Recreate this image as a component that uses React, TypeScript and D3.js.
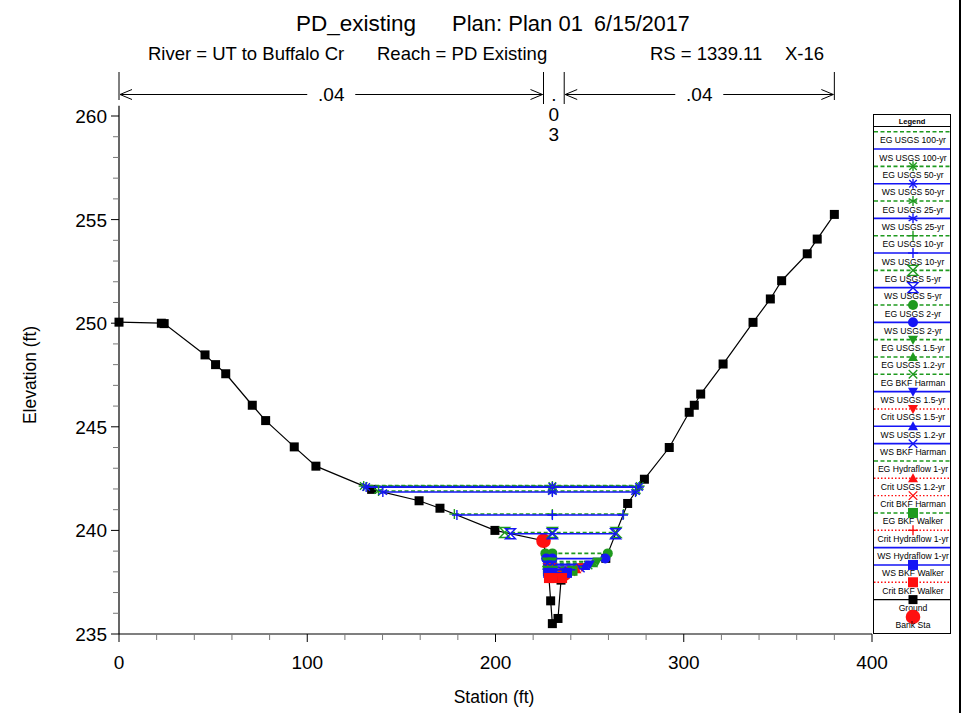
import React from 'react';
import * as d3 from 'd3';

// ---------- DATA ----------
const groundStation = [0, 22.5, 24, 45.7, 51.3, 56.7, 70.8, 77.9, 93.1, 104.6, 134.2, 159.4, 170.5, 199.7, 225.5, 228.4, 229.3, 230.2, 233.2, 234.8, 236.5, 258.6, 270.2, 279.1, 292.3, 302.9, 305.6, 309.0, 320.9, 336.8, 346.0, 352.0, 365.6, 370.9, 380.0];
const groundElev = [250.05, 250.0, 249.98, 248.47, 248.0, 247.56, 246.04, 245.3, 244.03, 243.1, 241.98, 241.43, 241.07, 240.0, 239.5, 237.7, 236.6, 235.5, 235.75, 237.6, 237.9, 238.65, 241.3, 242.47, 244.0, 245.7, 246.04, 246.58, 248.03, 250.04, 251.17, 252.05, 253.35, 254.06, 255.25];

const bankStations = [225.5, 236.5];
const nBreaks = [0, 225.5, 236.5, 380];
const nValues = ['.04', '.03', '.04'];

const profileNames = [
  'EG USGS 100-yr', 'WS USGS 100-yr', 'EG USGS 50-yr', 'WS USGS 50-yr', 'EG USGS 25-yr', 'WS USGS 25-yr',
  'EG USGS 10-yr', 'WS USGS 10-yr', 'EG USGS 5-yr', 'WS USGS 5-yr', 'EG USGS 2-yr', 'WS USGS 2-yr',
  'EG USGS 1.5-yr', 'EG USGS 1.2-yr', 'EG BKF Harman', 'WS USGS 1.5-yr', 'Crit USGS 1.5-yr', 'WS USGS 1.2-yr',
  'WS BKF Harman', 'EG Hydraflow 1-yr', 'Crit USGS 1.2-yr', 'Crit BKF Harman', 'EG BKF Walker',
  'Crit Hydraflow 1-yr', 'WS Hydraflow 1-yr', 'WS BKF Walker', 'Crit BKF Walker',
];
const profileElev = [
  242.17, 242.12, 242.14, 242.09, 241.90, 241.85,
  240.79, 240.74, 239.90, 239.84, 238.89, 238.64,
  238.50, 238.42, 238.33, 238.36, 238.22, 238.28,
  238.19, 238.22, 238.12, 238.02, 238.05,
  237.92, 238.10, 237.95, 237.70,
];
const profileMarker = [
  'none', 'none', 'asterisk', 'asterisk', 'star', 'star',
  'plus', 'plus', 'hourglass', 'hourglass', 'circle', 'circle',
  'triDown', 'triUp', 'x', 'triDown', 'triDown', 'triUp',
  'x', 'none', 'triUp', 'x', 'square',
  'plus', 'none', 'square', 'square',
];

const xTicks = [0, 100, 200, 300, 400];
const yTicks = [235, 240, 245, 250, 255, 260];

// ---------- STYLE ----------
const GREEN = '#1f9a1f';
const BLUE = '#1515f5';
const RED = '#ff1010';
const FONT = 'Arial, "Liberation Sans", sans-serif';

const typeOf = (name: string) => name.split(' ')[0];
const styleOf = (name: string) => {
  const t = typeOf(name);
  if (t === 'EG') return { color: GREEN, dash: '4 2.5', width: 1.6 };
  if (t === 'WS') return { color: BLUE, dash: undefined, width: 1.6 };
  return { color: RED, dash: '1.5 2', width: 1.4 };
};

function Marker({ type, x, y, color, s = 5 }: { type: string; x: number; y: number; color: string; s?: number }) {
  const sw = 1.4;
  switch (type) {
    case 'asterisk':
      return (
        <g stroke={color} strokeWidth={sw} transform={`translate(${x},${y})`}>
          <line x1={-s} y1={0} x2={s} y2={0} />
          <line x1={0} y1={-s} x2={0} y2={s} />
          <line x1={-s * 0.75} y1={-s * 0.75} x2={s * 0.75} y2={s * 0.75} />
          <line x1={-s * 0.75} y1={s * 0.75} x2={s * 0.75} y2={-s * 0.75} />
        </g>
      );
    case 'star':
      return (
        <g stroke={color} strokeWidth={sw} transform={`translate(${x},${y})`}>
          <line x1={0} y1={-s} x2={0} y2={s} />
          <line x1={-s * 0.87} y1={-s * 0.5} x2={s * 0.87} y2={s * 0.5} />
          <line x1={-s * 0.87} y1={s * 0.5} x2={s * 0.87} y2={-s * 0.5} />
        </g>
      );
    case 'plus':
      return (
        <g stroke={color} strokeWidth={sw} transform={`translate(${x},${y})`}>
          <line x1={-s} y1={0} x2={s} y2={0} />
          <line x1={0} y1={-s} x2={0} y2={s} />
        </g>
      );
    case 'x':
      return (
        <g stroke={color} strokeWidth={sw} transform={`translate(${x},${y})`}>
          <line x1={-s * 0.85} y1={-s * 0.85} x2={s * 0.85} y2={s * 0.85} />
          <line x1={-s * 0.85} y1={s * 0.85} x2={s * 0.85} y2={-s * 0.85} />
        </g>
      );
    case 'hourglass':
      return (
        <path d={`M${x - s},${y - s}H${x + s}L${x - s},${y + s}H${x + s}Z`} fill="none" stroke={color} strokeWidth={sw} />
      );
    case 'circle':
      return <circle cx={x} cy={y} r={s} fill={color} />;
    case 'triDown':
      return <path d={`M${x - s},${y - s * 0.8}H${x + s}L${x},${y + s}Z`} fill={color} />;
    case 'triUp':
      return <path d={`M${x - s},${y + s * 0.8}H${x + s}L${x},${y - s}Z`} fill={color} />;
    case 'square':
      return <rect x={x - s} y={y - s} width={2 * s} height={2 * s} fill={color} />;
    default:
      return null;
  }
}

// water surface extent: walk out from the thalweg until ground rises above elevation
function extent(el: number) {
  let thal = 0;
  groundElev.forEach((e, i) => { if (e < groundElev[thal]) thal = i; });
  let left = groundStation[0];
  for (let i = thal; i > 0; i--) {
    if (groundElev[i - 1] >= el) {
      const t = (el - groundElev[i]) / (groundElev[i - 1] - groundElev[i]);
      left = groundStation[i] + t * (groundStation[i - 1] - groundStation[i]);
      break;
    }
  }
  let right = groundStation[groundStation.length - 1];
  for (let i = thal; i < groundStation.length - 1; i++) {
    if (groundElev[i + 1] >= el) {
      const t = (el - groundElev[i]) / (groundElev[i + 1] - groundElev[i]);
      right = groundStation[i] + t * (groundStation[i + 1] - groundStation[i]);
      break;
    }
  }
  return { left, right, mid: groundStation[thal] };
}

export default function App() {
  const W = 965, H = 713;
  const x = d3.scaleLinear().domain([0, 400]).range([119, 872]);
  const y = d3.scaleLinear().domain([235, 260]).range([634, 116]);

  const groundLine = d3.line<number>().x((_, i) => x(groundStation[i])).y((d) => y(d))(groundElev) || '';

  const yMinor = d3.range(235, 261, 1);
  const xMinor = d3.range(0, 401, 20);

  const arrowY = 94.5;
  const chevron = (tipX: number, dir: number) => `M${tipX - dir * 12},${arrowY - 5}L${tipX},${arrowY}L${tipX - dir * 12},${arrowY + 5}`;

  const legX0 = 873.5, legX1 = 950.5, legTop = 114.5, legBottom = 633.5;
  const rowY = (i: number) => 131.7 + i * 17.33;
  const legCx = 913;

  return (
    <svg width={W} height={H} style={{ position: 'absolute', left: 0, top: 0, background: '#fff' }} fontFamily={FONT}>
      <rect x={0} y={0} width={W} height={H} fill="#fff" />
      {/* titles */}
      <text x={296} y={31} fontSize={22.5}>PD_existing</text>
      <text x={452} y={31} fontSize={22}>Plan: Plan 01</text>
      <text x={594} y={31} fontSize={21.5}>6/15/2017</text>
      <text x={148} y={60} fontSize={18.5}>River = UT to Buffalo Cr</text>
      <text x={377} y={60} fontSize={18.5}>Reach = PD Existing</text>
      <text x={650} y={60} fontSize={18.5}>RS = 1339.11</text>
      <text x={785} y={60} fontSize={18.5}>X-16</text>

      {/* n-value annotations */}
      {nBreaks.map((b, i) => {
        const inner = i === 1 || i === 2;
        return <line key={'nb' + i} x1={x(b)} x2={x(b)} y1={72} y2={inner ? 104 : 100} stroke="#000" strokeWidth={1} />;
      })}
      {nValues.map((v, i) => {
        const a = x(nBreaks[i]), b = x(nBreaks[i + 1]);
        const c = (a + b) / 2;
        if (b - a < 40) {
          return (
            <g key={'nv' + i} fontSize={19} textAnchor="middle">
              {v.split('').map((ch, k) => (
                <text key={k} x={c} y={101 + k * 20} >{ch}</text>
              ))}
            </g>
          );
        }
        return (
          <g key={'nv' + i}>
            <line x1={a + 1} x2={c - 24} y1={arrowY} y2={arrowY} stroke="#000" strokeWidth={1} />
            <line x1={c + 24} x2={b - 1} y1={arrowY} y2={arrowY} stroke="#000" strokeWidth={1} />
            <path d={chevron(a + 1, -1)} fill="none" stroke="#000" strokeWidth={1} />
            <path d={chevron(b - 1, 1)} fill="none" stroke="#000" strokeWidth={1} />
            <text x={c} y={101} fontSize={19} textAnchor="middle">{v}</text>
          </g>
        );
      })}

      {/* axes */}
      <line x1={119} x2={119} y1={y(260.5)} y2={634} stroke="#000" strokeWidth={1.2} />
      <line x1={119} x2={872} y1={634} y2={634} stroke="#000" strokeWidth={1.2} />
      {yMinor.map((v) => (
        <line key={'ym' + v} x1={v % 5 === 0 ? 111 : 113} x2={119} y1={y(v)} y2={y(v)} stroke={v % 5 === 0 ? '#000' : '#777'} strokeWidth={1} />
      ))}
      {yTicks.map((v) => (
        <text key={'yt' + v} x={107} y={y(v) + 7} fontSize={19} textAnchor="end">{v}</text>
      ))}
      {xMinor.map((v) => (
        <line key={'xm' + v} x1={x(v)} x2={x(v)} y1={634} y2={v % 100 === 0 ? 642 : 640} stroke={v % 100 === 0 ? '#000' : '#777'} strokeWidth={1} />
      ))}
      {xTicks.map((v) => (
        <text key={'xt' + v} x={x(v)} y={669} fontSize={19} textAnchor="middle">{v}</text>
      ))}
      <text transform={`translate(36,375) rotate(-90)`} fontSize={17.5} textAnchor="middle">Elevation (ft)</text>
      <text x={494} y={703} fontSize={17.5} textAnchor="middle">Station (ft)</text>

      {/* ground */}
      <path d={groundLine} fill="none" stroke="#000" strokeWidth={1.2} />
      {groundStation.map((s, i) => (
        <rect key={'g' + i} x={x(s) - 4.5} y={y(groundElev[i]) - 4.5} width={9} height={9} fill="#000" />
      ))}
      {bankStations.map((s, i) => {
        const e = d3.scaleLinear().domain(groundStation).range(groundElev)(s);
        return <circle key={'b' + i} cx={x(s)} cy={y(e)} r={7.3} fill={RED} />;
      })}

      {/* profiles */}
      {profileNames.map((name, i) => {
        const el = profileElev[i];
        const st = styleOf(name);
        const ex = extent(el);
        const yy = y(el);
        return (
          <g key={'p' + i}>
            <line x1={x(ex.left)} x2={x(ex.right)} y1={yy} y2={yy} stroke={st.color} strokeWidth={st.width} strokeDasharray={st.dash} />
            {[ex.left, ex.mid, ex.right].map((s, k) => (
              <Marker key={k} type={profileMarker[i]} x={x(s)} y={yy} color={st.color} />
            ))}
          </g>
        );
      })}

      {/* legend */}
      <rect x={legX0} y={legTop} width={legX1 - legX0} height={legBottom - legTop} fill="#fff" stroke="#000" strokeWidth={1} />
      <line x1={legX0} x2={legX1} y1={126.5} y2={126.5} stroke="#000" strokeWidth={1} />
      <text x={(legX0 + legX1) / 2} y={123.5} fontSize={7.5} fontWeight="bold" textAnchor="middle">Legend</text>
      {profileNames.map((name, i) => {
        const st = styleOf(name);
        const ly = rowY(i);
        return (
          <g key={'l' + i}>
            <line x1={legX0 + 0.5} x2={legX1 - 0.5} y1={ly} y2={ly} stroke={st.color} strokeWidth={st.width} strokeDasharray={st.dash} />
            <Marker type={profileMarker[i]} x={legCx} y={ly} color={st.color} />
            <text x={legCx} y={ly + 11.5} fontSize={8.6} textAnchor="middle">{name}</text>
          </g>
        );
      })}
      {(() => {
        const gy = rowY(27);
        const by = rowY(28);
        return (
          <g>
            <line x1={legX0 + 0.5} x2={legX1 - 0.5} y1={gy} y2={gy} stroke="#000" strokeWidth={1.4} />
            <rect x={legCx - 4.5} y={gy - 4.5} width={9} height={9} fill="#000" />
            <text x={legCx} y={gy + 11.5} fontSize={8.6} textAnchor="middle">Ground</text>
            <circle cx={legCx} cy={by} r={7.3} fill={RED} />
            <text x={legCx} y={by + 11.5} fontSize={8.6} textAnchor="middle">Bank Sta</text>
          </g>
        );
      })()}

      {/* right border */}
      <line x1={960} x2={960} y1={0} y2={H} stroke="#000" strokeWidth={2} />
    </svg>
  );
}
